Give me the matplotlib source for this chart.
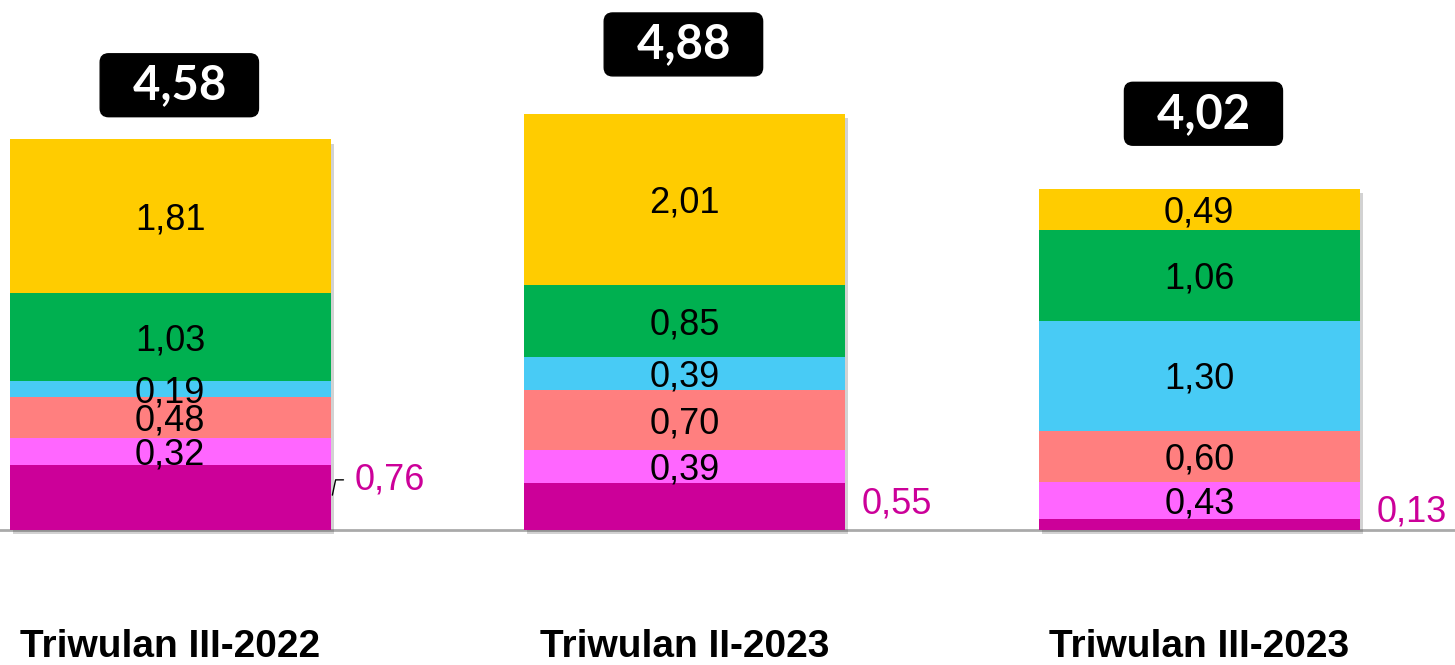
import matplotlib
matplotlib.use('Agg')
import matplotlib.pyplot as plt
import matplotlib.patheffects as pe

categories = ['Triwulan III-2022', 'Triwulan II-2023', 'Triwulan III-2023']
totals = ['4,58', '4,88', '4,02']

# stacked from the bottom up
magenta = [0.76, 0.55, 0.13]
pink = [0.32, 0.39, 0.43]
salmon = [0.48, 0.70, 0.60]
light_blue = [0.19, 0.39, 1.30]
green = [1.03, 0.85, 1.06]
yellow = [1.81, 2.01, 0.49]

segments = [pink, salmon, light_blue, green, yellow]
seg_colors = ['#FF66FF', '#FF7F7F', '#48CBF5', '#00B050', '#FFCC00']


def fmt(v):
    return f'{v:.2f}'.replace('.', ',')


fig = plt.figure(figsize=(14.55, 6.65), dpi=100)
ax = fig.add_axes([0, 0, 1, 1])
ax.set_xlim(-0.331, 2.497)
ax.set_ylim(-1.586, 6.228)
ax.axis('off')

x = list(range(len(categories)))
width = 0.624

ax.axhline(0, color='#AAAAAA', lw=2, zorder=1)

# soft shadow behind the whole stack
stack_height = [sum(s) for s in zip(magenta, *segments)]
shadow_bars = ax.bar(x, stack_height, width, color='white', zorder=1.5)
for b in shadow_bars:
    b.set_path_effects([pe.SimplePatchShadow(offset=(2, -3), alpha=0.25), pe.Normal()])

# bottom segment, label outside the bar
ax.bar(x, magenta, width, color='#CC0099', zorder=2)
for i, v in enumerate(magenta):
    xr = x[i] + width / 2
    if i == 0:
        ax.annotate(fmt(v), xy=(xr + 0.003, 0.41),
                    xytext=(16, 11), textcoords='offset points',
                    ha='left', va='center', fontsize=26, color='#CC0099',
                    family='Liberation Sans',
                    arrowprops=dict(arrowstyle='-', color='black', lw=1,
                                    shrinkA=6, shrinkB=0,
                                    connectionstyle='angle,angleA=0,angleB=78'))
    else:
        dy = [0, 2, 9][i]
        ax.annotate(fmt(v), xy=(xr, v / 2),
                    xytext=(12, dy), textcoords='offset points',
                    ha='left', va='center', fontsize=26, color='#CC0099',
                    family='Liberation Sans')

bottom = list(magenta)
for vals, col in zip(segments, seg_colors):
    ax.bar(x, vals, width, bottom=bottom, color=col, zorder=2)
    for i, v in enumerate(vals):
        ax.text(x[i], bottom[i] + v / 2 - 0.04, fmt(v),
                ha='center', va='center', fontsize=26, color='black',
                family='Liberation Sans', zorder=3)
    bottom = [b + v for b, v in zip(bottom, vals)]

# total boxes
box_dx = [6.5, -1, 3]
box_dy = [39, 50, 54]
for i, t in enumerate(totals):
    ax.annotate('  ' + t + '  ', xy=(x[i], bottom[i]), xytext=(box_dx[i], box_dy[i]),
                textcoords='offset points', ha='center', va='center',
                fontsize=34, fontweight='bold', color='white', family='Lato',
                bbox=dict(boxstyle='round,pad=0.2,rounding_size=0.18',
                          fc='black', ec='black'))

for i, c in enumerate(categories):
    ax.text(x[i], -1.38, c, ha='center', va='center', fontsize=28,
            fontweight='bold', family='Liberation Sans')

fig.savefig('out.png', dpi=100)
